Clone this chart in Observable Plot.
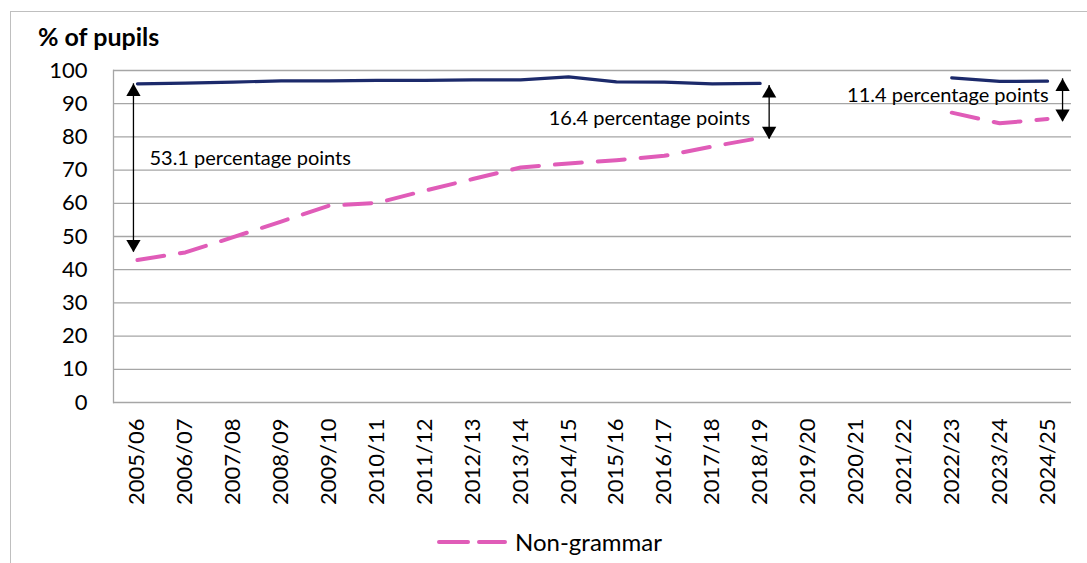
<!DOCTYPE html>
<html>
<head>
<meta charset="utf-8">
<script src="https://cdn.jsdelivr.net/npm/d3@7"></script>
<script src="https://cdn.jsdelivr.net/npm/@observablehq/plot@0.6"></script>
<style>
  html, body { margin: 0; padding: 0; background: #fff; }
  body { width: 1087px; height: 563px; position: relative; overflow: hidden; font-family: Lato, "Open Sans", sans-serif; }
  #frame { position: absolute; left: 10px; top: 11px; width: 1100px; height: 600px; border-left: 1.5px solid #bfbfbf; border-top: 1.5px solid #bfbfbf; }
  #title { position: absolute; left: 38px; top: 21px; font-weight: bold; font-size: 25px; line-height: 30px; color: #000; }
  #chart { position: absolute; left: 0; top: 0; }
  #legend { position: absolute; left: 437px; top: 527px; display: flex; align-items: center; font-size: 24px; line-height: 30px; color: #000; }
  #legend svg { margin-right: 6px; }
</style>
</head>
<body>
<div id="frame"></div>
<div id="chart"></div>
<div id="title">% of pupils</div>
<div id="legend"></div>
<script>
const categories = ["2005/06","2006/07","2007/08","2008/09","2009/10","2010/11","2011/12","2012/13","2013/14","2014/15","2015/16","2016/17","2017/18","2018/19","2019/20","2020/21","2021/22","2022/23","2023/24","2024/25"];
const grammar    = [96.0, 96.2, 96.5, 96.9, 96.9, 97.0, 97.0, 97.2, 97.2, 98.1, 96.6, 96.5, 96.0, 96.1, null, null, null, 97.8, 96.7, 96.8];
const nonGrammar = [42.9, 45.2, 49.8, 54.5, 59.3, 60.1, 63.8, 67.3, 70.8, 72.0, 73.0, 74.3, 77.1, 79.7, null, null, null, 87.3, 84.1, 85.4];
const yTicks = [0, 10, 20, 30, 40, 50, 60, 70, 80, 90, 100];

// gap annotations
const gapCategory = ["2005/06", "2018/19", "2024/25"];
const gapTop      = [96.0, 95.5, 97.5];
const gapBottom   = [45.3, 79.4, 84.6];
const gapLabel    = ["53.1 percentage points", "16.4 percentage points", "11.4 percentage points"];
const gapLabelY   = [73.5, 85.4, 92.5];

const NAVY = "#1c2a6b";
const PINK = "#e05cb8";

const rows = categories.map((c, i) => ({cat: c, g: grammar[i], n: nonGrammar[i]}));

// per-annotation styling (offsets only)
const arrowDx = [-4, 9, 15];
const labelDx = [12, -10, 1];
const labelAnchor = ["start", "end", "end"];

const annotationMarks = [];
gapCategory.forEach((c, i) => {
  const d = [{cat: c, top: gapTop[i], bottom: gapBottom[i], label: gapLabel[i], ly: gapLabelY[i]}];
  annotationMarks.push(
    Plot.ruleX(d, {x: "cat", y1: "top", y2: "bottom", stroke: "#000", strokeWidth: 1.3, dx: arrowDx[i]}),
    Plot.dot(d, {x: "cat", y: "top", symbol: "triangle", r: 5.3, fill: "#000", stroke: "none", dx: arrowDx[i], dy: 8}),
    Plot.dot(d, {x: "cat", y: "bottom", symbol: "triangle", r: 5.3, fill: "#000", stroke: "none", rotate: 180, dx: arrowDx[i], dy: -8}),
    Plot.text(d, {x: "cat", y: "ly", text: "label", textAnchor: labelAnchor[i], dx: labelDx[i], fontSize: 20, fill: "#000"})
  );
});

const chart = Plot.plot({
  width: 1087,
  height: 520,
  marginTop: 70,
  marginBottom: 118,
  marginLeft: 113,
  marginRight: 16,
  style: {fontFamily: "Lato, 'Open Sans', sans-serif", fontSize: "22px", color: "#000", background: "transparent"},
  x: {type: "point", domain: categories, padding: 0.5, round: false, label: null},
  y: {domain: [0, 100], label: null},
  marks: [
    Plot.gridY(yTicks, {stroke: "#a6a6a6", strokeOpacity: 1, strokeWidth: 1.3}),
    Plot.frame({anchor: "left", stroke: "#a6a6a6", strokeWidth: 1.3}),
    Plot.axisY(yTicks, {tickSize: 0, tickPadding: 26, label: null, fontSize: 22}),
    Plot.axisX(categories, {tickSize: 0, tickPadding: 16, tickRotate: -90, label: null, fontSize: 22}),
    Plot.line(rows, {x: "cat", y: "g", stroke: NAVY, strokeWidth: 3.2, curve: "linear"}),
    Plot.line(rows, {x: "cat", y: "n", stroke: PINK, strokeWidth: 4, strokeDasharray: "27,16", strokeLinecap: "round", curve: "linear"}),
    ...annotationMarks
  ]
});
document.getElementById("chart").appendChild(chart);

// legend
const legend = document.getElementById("legend");
legend.innerHTML = `<svg width="72" height="12"><line x1="2" y1="6" x2="68" y2="6" stroke="${PINK}" stroke-width="4" stroke-dasharray="29,11" stroke-linecap="round"/></svg><span>Non-grammar</span>`;
</script>
</body>
</html>
